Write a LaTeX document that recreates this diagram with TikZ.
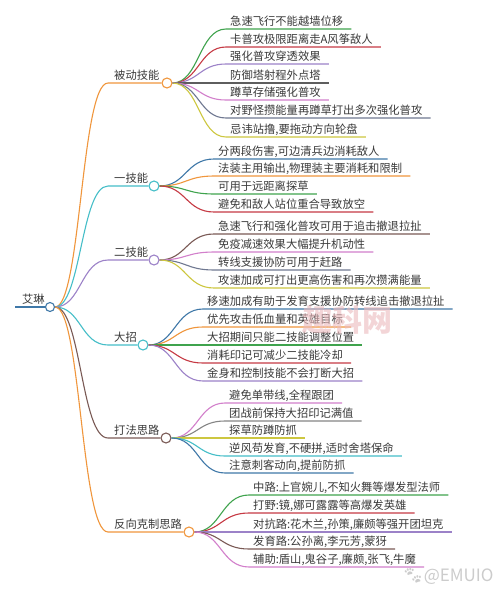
\documentclass[tikz,border=0pt]{standalone}
\usepackage{fontspec}
\setmainfont{Noto Sans CJK SC}
\newfontfamily\emojifont{Noto Emoji}
\usetikzlibrary{calc}
\definecolor{corange}{HTML}{F0963C}
\definecolor{cteal}{HTML}{45BEC8}
\definecolor{cpurple}{HTML}{9C82C8}
\definecolor{cbrown}{HTML}{7A5A55}
\definecolor{csteel}{HTML}{3F78A8}
\definecolor{cgreen}{HTML}{3FA34D}
\definecolor{cred}{HTML}{C63A44}
\definecolor{cpink}{HTML}{D27FCB}
\definecolor{cgray}{HTML}{858585}
\definecolor{cyellow}{HTML}{CDC740}
\definecolor{cslate}{HTML}{6F7891}
\definecolor{cdgray}{HTML}{5E5E5E}
\definecolor{ctext}{HTML}{3A3A3A}
\begin{document}
\begin{tikzpicture}[x=1pt,y=-1pt,
  font=\fontsize{11.3}{13}\selectfont,
  conn/.style={line width=1.1pt},
  hub/.style={circle,draw,line width=1.1pt,fill=white,minimum size=10pt,inner sep=0pt},
  lbl/.style={inner sep=0pt,text=ctext,anchor=base west}]
\useasboundingbox (0,0) rectangle (500,595);
\fill[white] (0,0) rectangle (500,595);

% root
\node[hub,draw=csteel,minimum size=9pt] (root) at (50,307) {};
\coordinate (rs) at (15,307);
\node[lbl] (roott) at (22,303.5) {艾琳};
\draw[conn,csteel] (rs) -- (root.west);

% branch hubs
\node[hub,draw=corange] (b1) at (167,83) {};
\node[hub,draw=cteal] (b2) at (154,186) {};
\node[hub,draw=cpurple] (b3) at (154,260) {};
\node[hub,draw=cteal] (b4) at (143,345) {};
\node[hub,draw=cbrown] (b5) at (166,438) {};
\node[hub,draw=corange] (b6) at (189,532) {};

\node[lbl] (b1t) at (114,79.5) {被动技能};
\node[lbl] (b2t) at (114,182.5) {一技能};
\node[lbl] (b3t) at (114,256.5) {二技能};
\node[lbl] (b4t) at (114,341.5) {大招};
\node[lbl] (b5t) at (114,434.5) {打法思路};
\node[lbl] (b6t) at (114,528.5) {反向克制思路};

\coordinate (b1a) at (108,83);
\coordinate (b2a) at (108,186);
\coordinate (b3a) at (108,260);
\coordinate (b4a) at (108,345);
\coordinate (b5a) at (108,438);
\coordinate (b6a) at (108,532);

\draw[conn,corange] (root.east) .. controls (81,307) and (81,83) .. (b1a) -- (b1.west);
\draw[conn,cteal] (root.east) .. controls (81,307) and (81,186) .. (b2a) -- (b2.west);
\draw[conn,cpurple] (root.east) .. controls (81,307) and (81,260) .. (b3a) -- (b3.west);
\draw[conn,cteal] (root.east) .. controls (81,307) and (81,345) .. (b4a) -- (b4.west);
\draw[conn,cbrown] (root.east) .. controls (81,307) and (81,438) .. (b5a) -- (b5.west);
\draw[conn,corange] (root.east) .. controls (81,307) and (81,532) .. (b6a) -- (b6.west);

% leaves of b1
\foreach \t/\y/\c [count=\i] in {
  {急速飞行不能越墙位移}/29/cgreen,
  {卡普攻极限距离走A风筝敌人}/47/cred,
  {强化普攻穿透效果}/64/cpurple,
  {防御塔射程外点塔}/83/cdgray,
  {蹲草存储强化普攻}/100/cpink,
  {对野怪攒能量再蹲草打出多次强化普攻}/118/cslate,
  {忌讳站撸,要拖动方向轮盘}/137/cyellow}{
  \node[lbl] (b1l\i) at (230,\y-3.8) {\t};
  \coordinate (b1s\i) at (226,\y);
  \draw[conn,\c] (b1.east) .. controls (199,83) and (199,\y) .. (b1s\i) -- ($(b1s\i -| b1l\i.east)+(8,0)$);
}

% leaves of b2
\foreach \t/\y/\c [count=\i] in {
  {分两段伤害,可边清兵边消耗敌人}/159/csteel,
  {法装主用输出,物理装主要消耗和限制}/176/corange,
  {可用于远距离探草}/194/cgreen,
  {避免和敌人站位重合导致放空}/212/cred}{
  \node[lbl] (b2l\i) at (218,\y-3.8) {\t};
  \coordinate (b2s\i) at (214,\y);
  \draw[conn,\c] (b2.east) .. controls (186,186) and (186,\y) .. (b2s\i) -- ($(b2s\i -| b2l\i.east)+(8,0)$);
}

% leaves of b3
\foreach \t/\y/\c [count=\i] in {
  {急速飞行和强化普攻可用于追击撤退拉扯}/234/cbrown,
  {免疫减速效果大幅提升机动性}/252/cpink,
  {转线支援协防可用于赶路}/270/cslate,
  {攻速加成可打出更高伤害和再次攒满能量}/288/cyellow}{
  \node[lbl] (b3l\i) at (218,\y-3.8) {\t};
  \coordinate (b3s\i) at (214,\y);
  \draw[conn,\c] (b3.east) .. controls (186,260) and (186,\y) .. (b3s\i) -- ($(b3s\i -| b3l\i.east)+(8,0)$);
}

% leaves of b4
\foreach \t/\y/\c [count=\i] in {
  {移速加成有助于发育支援协防转线追击撤退拉扯}/309/csteel,
  {优先攻击低血量和英雄目标}/327/corange,
  {大招期间只能二技能调整位置}/345/cgreen,
  {消耗印记可减少二技能冷却}/363/cred,
  {金身和控制技能不会打断大招}/381/cpurple}{
  \node[lbl] (b4l\i) at (207,\y-3.8) {\t};
  \coordinate (b4s\i) at (203,\y);
  \draw[conn,\c] (b4.east) .. controls (175,345) and (175,\y) .. (b4s\i) -- ($(b4s\i -| b4l\i.east)+(8,0)$);
}

% leaves of b5
\foreach \t/\y/\c [count=\i] in {
  {避免单带线,全程跟团}/403/cpink,
  {团战前保持大招印记满值}/421/cgray,
  {探草防蹲防抓}/438/cyellow,
  {逆风苟发育,不硬拼,适时舍塔保命}/456/cteal,
  {注意刺客动向,提前防抓}/473/csteel}{
  \node[lbl] (b5l\i) at (229,\y-3.8) {\t};
  \coordinate (b5s\i) at (225,\y);
  \draw[conn,\c] (b5.east) .. controls (198,438) and (198,\y) .. (b5s\i) -- ($(b5s\i -| b5l\i.east)+(8,0)$);
}

% leaves of b6
\foreach \t/\y/\c [count=\i] in {
  {中路:上官婉儿,不知火舞等爆发型法师}/495/cgreen,
  {打野:镜,娜可露露等高爆发英雄}/513/cred,
  {对抗路:花木兰,孙策,廉颇等强开团坦克}/532/cpurple,
  {发育路:公孙离,李元芳,蒙犽}/549/cbrown,
  {辅助:盾山,鬼谷子,廉颇,张飞,牛魔}/567/cpink}{
  \node[lbl] (b6l\i) at (253,\y-3.8) {\t};
  \coordinate (b6s\i) at (249,\y);
  \draw[conn,\c] (b6.east) .. controls (221,532) and (221,\y) .. (b6s\i) -- ($(b6s\i -| b6l\i.east)+(8,0)$);
}

% watermarks
\node[inner sep=0pt,text=cred!35,opacity=0.6,font=\fontsize{30}{32}\selectfont\bfseries] (wm1) at (347,320) {趣科网};
\node[inner sep=0pt,text=black!20,font=\fontsize{17}{19}\selectfont,anchor=west] (wm2) at (402,576) {{\emojifont 🐾}@EMUIO};
\end{tikzpicture}
\end{document}
